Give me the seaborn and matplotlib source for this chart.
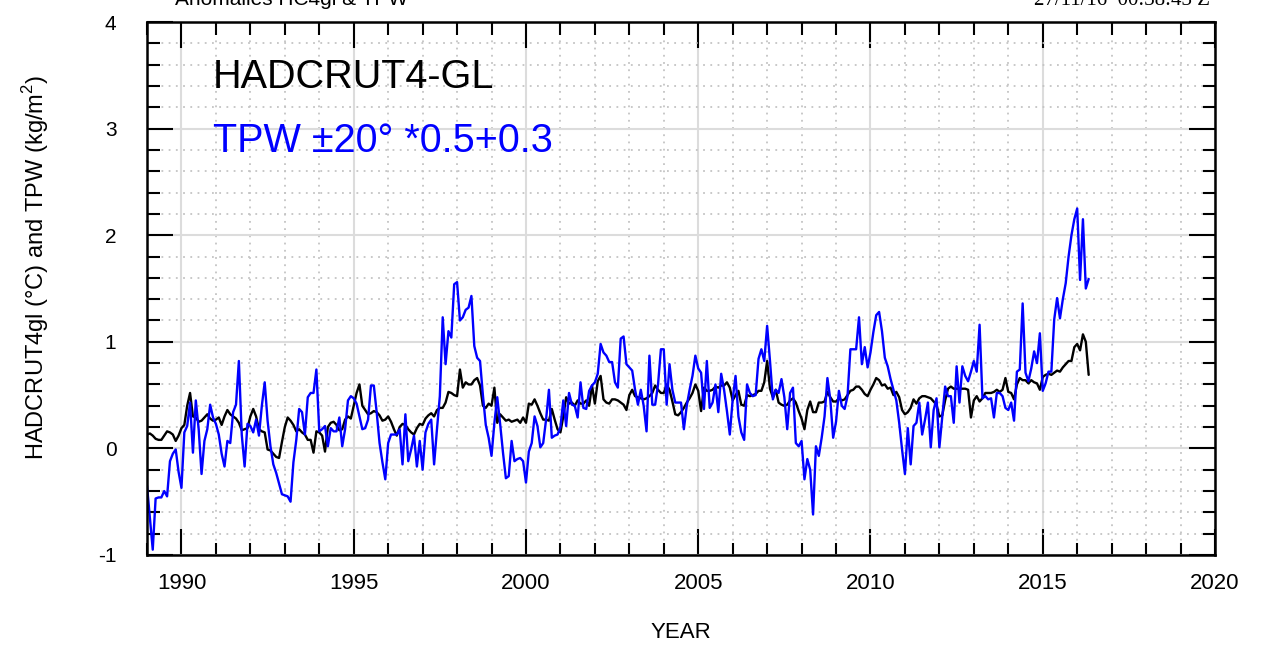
import numpy as np
import pandas as pd
import matplotlib
matplotlib.use("Agg")
import matplotlib.pyplot as plt
import seaborn as sns
from matplotlib.ticker import MultipleLocator

# Monthly anomalies, Jan 1989 .. May 2016 (one row per year)
hadcrut = [
    0.13, 0.14, 0.12, 0.09, 0.08, 0.08, 0.12, 0.16, 0.15, 0.13, 0.07, 0.12,   # 1989
    0.19, 0.22, 0.40, 0.52, 0.30, 0.29, 0.25, 0.26, 0.29, 0.32, 0.28, 0.26,   # 1990
    0.27, 0.29, 0.22, 0.30, 0.36, 0.32, 0.30, 0.28, 0.24, 0.17, 0.18, 0.19,   # 1991
    0.30, 0.37, 0.30, 0.18, 0.16, 0.15, -0.01, -0.02, -0.05, -0.08, -0.09, 0.06,  # 1992
    0.20, 0.29, 0.26, 0.22, 0.16, 0.18, 0.15, 0.13, 0.08, 0.08, -0.04, 0.16,  # 1993
    0.15, 0.12, -0.03, 0.20, 0.24, 0.25, 0.22, 0.17, 0.18, 0.27, 0.30, 0.28,  # 1994
    0.40, 0.52, 0.60, 0.40, 0.36, 0.32, 0.33, 0.35, 0.34, 0.31, 0.26, 0.27,   # 1995
    0.30, 0.25, 0.18, 0.12, 0.20, 0.23, 0.22, 0.18, 0.15, 0.13, 0.19, 0.23,   # 1996
    0.22, 0.28, 0.31, 0.33, 0.30, 0.36, 0.38, 0.38, 0.43, 0.53, 0.52, 0.50,   # 1997
    0.49, 0.74, 0.57, 0.62, 0.60, 0.60, 0.64, 0.66, 0.59, 0.40, 0.38, 0.42,   # 1998
    0.40, 0.57, 0.24, 0.32, 0.29, 0.26, 0.27, 0.25, 0.26, 0.27, 0.24, 0.29,   # 1999
    0.24, 0.42, 0.41, 0.46, 0.40, 0.33, 0.27, 0.27, 0.26, 0.37, 0.27, 0.18,   # 2000
    0.15, 0.30, 0.48, 0.42, 0.43, 0.40, 0.45, 0.42, 0.42, 0.45, 0.40, 0.59,   # 2001
    0.42, 0.63, 0.68, 0.46, 0.43, 0.42, 0.46, 0.46, 0.45, 0.43, 0.41, 0.36,   # 2002
    0.50, 0.55, 0.49, 0.48, 0.47, 0.46, 0.47, 0.49, 0.52, 0.59, 0.55, 0.52,   # 2003
    0.52, 0.60, 0.55, 0.44, 0.32, 0.31, 0.34, 0.38, 0.43, 0.47, 0.52, 0.60,   # 2004
    0.54, 0.35, 0.57, 0.54, 0.54, 0.55, 0.58, 0.57, 0.59, 0.59, 0.62, 0.57,   # 2005
    0.45, 0.50, 0.54, 0.41, 0.40, 0.50, 0.49, 0.50, 0.51, 0.54, 0.54, 0.62,   # 2006
    0.82, 0.56, 0.48, 0.55, 0.43, 0.41, 0.40, 0.41, 0.45, 0.47, 0.43, 0.35,   # 2007
    0.28, 0.18, 0.36, 0.44, 0.34, 0.34, 0.43, 0.43, 0.44, 0.53, 0.48, 0.44,   # 2008
    0.44, 0.47, 0.45, 0.46, 0.50, 0.54, 0.55, 0.58, 0.58, 0.55, 0.51, 0.49,   # 2009
    0.55, 0.60, 0.66, 0.64, 0.59, 0.60, 0.56, 0.57, 0.50, 0.53, 0.48, 0.36,   # 2010
    0.32, 0.34, 0.38, 0.46, 0.42, 0.47, 0.49, 0.49, 0.48, 0.47, 0.44, 0.41,   # 2011
    0.30, 0.31, 0.45, 0.56, 0.58, 0.56, 0.56, 0.56, 0.56, 0.56, 0.55, 0.29,   # 2012
    0.45, 0.49, 0.44, 0.47, 0.52, 0.52, 0.52, 0.53, 0.55, 0.53, 0.55, 0.66,   # 2013
    0.53, 0.52, 0.46, 0.60, 0.66, 0.64, 0.64, 0.61, 0.64, 0.62, 0.61, 0.55,   # 2014
    0.67, 0.69, 0.70, 0.69, 0.71, 0.73, 0.72, 0.76, 0.79, 0.82, 0.82, 0.95,   # 2015
    0.98, 0.92, 1.07, 1.00, 0.69,                                             # 2016
]

tpw = [
    -0.35, -0.65, -0.95, -0.47, -0.46, -0.46, -0.40, -0.45, -0.12, -0.05, -0.01, -0.22,  # 1989
    -0.37, 0.15, 0.21, 0.43, -0.04, 0.45, 0.18, -0.24, 0.07, 0.18, 0.41, 0.29,   # 1990
    0.23, 0.13, -0.05, -0.17, 0.07, 0.05, 0.34, 0.41, 0.82, 0.13, -0.17, 0.23,   # 1991
    0.21, 0.15, 0.27, 0.12, 0.40, 0.62, 0.26, 0.02, -0.15, -0.23, -0.33, -0.43,  # 1992
    -0.44, -0.45, -0.50, -0.13, 0.08, 0.37, 0.34, 0.13, 0.48, 0.52, 0.52, 0.74,  # 1993
    0.16, 0.18, 0.21, 0.02, 0.19, 0.16, 0.16, 0.29, 0.02, 0.18, 0.45, 0.49,      # 1994
    0.47, 0.42, 0.30, 0.18, 0.19, 0.27, 0.59, 0.59, 0.34, 0.05, -0.13, -0.29,    # 1995
    0.05, 0.13, 0.13, 0.13, 0.18, -0.15, 0.32, -0.12, -0.01, 0.12, -0.17, 0.07,  # 1996
    -0.20, 0.15, 0.23, 0.27, -0.15, 0.18, 0.49, 1.23, 0.79, 1.10, 1.04, 1.54,    # 1997
    1.56, 1.20, 1.23, 1.30, 1.32, 1.43, 0.96, 0.85, 0.82, 0.50, 0.22, 0.10,      # 1998
    -0.07, 0.24, 0.48, 0.23, -0.04, -0.28, -0.26, 0.07, -0.12, -0.10, -0.09, -0.12,  # 1999
    -0.32, -0.03, 0.05, 0.30, 0.21, 0.01, 0.05, 0.27, 0.55, 0.10, 0.12, 0.13,    # 2000
    0.20, 0.45, 0.21, 0.52, 0.41, 0.40, 0.29, 0.62, 0.38, 0.37, 0.54, 0.59,      # 2001
    0.62, 0.70, 0.98, 0.90, 0.87, 0.81, 0.81, 0.62, 0.57, 1.03, 1.05, 0.79,      # 2002
    0.76, 0.73, 0.55, 0.41, 0.55, 0.40, 0.16, 0.87, 0.41, 0.41, 0.60, 0.93,      # 2003
    0.93, 0.41, 0.79, 0.55, 0.43, 0.43, 0.43, 0.18, 0.40, 0.55, 0.68, 0.87,      # 2004
    0.75, 0.71, 0.37, 0.82, 0.38, 0.43, 0.60, 0.34, 0.70, 0.55, 0.35, 0.13,      # 2005
    0.46, 0.68, 0.30, 0.15, 0.08, 0.60, 0.52, 0.49, 0.50, 0.84, 0.93, 0.82,      # 2006
    1.15, 0.82, 0.46, 0.55, 0.52, 0.65, 0.48, 0.18, 0.52, 0.57, 0.05, 0.02,      # 2007
    0.07, -0.29, -0.10, -0.20, -0.62, 0.02, -0.07, 0.10, 0.30, 0.66, 0.46, 0.10, # 2008
    0.25, 0.54, 0.40, 0.37, 0.49, 0.93, 0.93, 0.93, 1.23, 0.79, 0.95, 0.76,      # 2009
    0.90, 1.09, 1.25, 1.28, 1.10, 0.85, 0.77, 0.65, 0.55, 0.45, 0.24, -0.01,     # 2010
    -0.24, 0.19, -0.15, 0.21, 0.24, 0.43, 0.13, 0.27, 0.43, 0.01, 0.36, 0.47,    # 2011
    0.01, 0.30, 0.58, 0.49, 0.49, 0.24, 0.77, 0.43, 0.77, 0.68, 0.63, 0.72,      # 2012
    0.82, 0.72, 1.16, 0.47, 0.49, 0.46, 0.47, 0.29, 0.52, 0.52, 0.49, 0.38,      # 2013
    0.36, 0.43, 0.26, 0.72, 0.74, 1.36, 0.71, 0.63, 0.75, 0.91, 0.80, 1.08,      # 2014
    0.54, 0.61, 0.72, 0.72, 1.21, 1.41, 1.22, 1.40, 1.55, 1.80, 2.00, 2.15,      # 2015
    2.25, 1.58, 2.15, 1.50, 1.59,                                                # 2016
]

start_year = 1989
years = start_year + np.arange(len(hadcrut)) / 12.0

df = pd.DataFrame({"year": years, "hadcrut": hadcrut, "tpw": tpw})

sns.set_style("white")
plt.rcParams["font.family"] = ["Liberation Sans", "DejaVu Sans"]
plt.rcParams["axes.unicode_minus"] = False
plt.rcParams["text.color"] = "black"
plt.rcParams["axes.labelcolor"] = "black"
plt.rcParams["mathtext.fontset"] = "custom"
plt.rcParams["mathtext.rm"] = "Liberation Sans"

fig = plt.figure(figsize=(12.69, 6.48), dpi=100)
ax = fig.add_axes([147 / 1269, 1 - 555 / 648, (1215 - 147) / 1269, (555 - 22) / 648])

sns.lineplot(data=df, x="year", y="hadcrut", color="black", linewidth=1.7, ax=ax)
sns.lineplot(data=df, x="year", y="tpw", color="#0000ff", linewidth=1.7, ax=ax)

ax.set_xlim(1989, 2020)
ax.set_ylim(-1, 4)
ax.xaxis.set_major_locator(MultipleLocator(5))
ax.xaxis.set_minor_locator(MultipleLocator(1))
ax.yaxis.set_major_locator(MultipleLocator(1))
ax.yaxis.set_minor_locator(MultipleLocator(0.2))

ax.grid(which="major", color="#dcdcdc", linestyle="-", linewidth=1.5, zorder=0)
ax.grid(which="minor", color="#c4c4c4", linestyle=(0, (1, 3)), linewidth=1.3, zorder=0)
ax.set_axisbelow(True)

ax.tick_params(which="major", direction="in", length=19, width=1.5,
               top=True, right=True, bottom=True, left=True, colors="black")
ax.tick_params(which="minor", direction="in", length=9, width=1.5,
               top=True, right=True, bottom=True, left=True, colors="black")
ax.tick_params(axis="y", which="major", pad=22, labelsize=15)
ax.tick_params(axis="x", which="major", pad=13, labelsize=16)
for sp in ax.spines.values():
    sp.set_color("black")
    sp.set_linewidth(1.8)

ax.set_xlabel("YEAR", fontsize=16, labelpad=20)
ax.set_ylabel("HADCRUT4gl (\u00b0C) and TPW (kg/m$^{2}$)", fontsize=17)
ax.yaxis.set_label_coords(-0.09, 0.54)

ax.text(0.062, 0.876, "HADCRUT4-GL", transform=ax.transAxes, fontsize=28.5,
        color="black", va="baseline", ha="left")
ax.text(0.062, 0.756, "TPW \u00b120\u00b0 *0.5+0.3", transform=ax.transAxes, fontsize=28.5,
        color="#0000ff", va="baseline", ha="left")

# header line, partly cut by the top edge as in the source image
fig.text(175 / 1269, 1 - 5 / 648, "Anomalies HC4gl & TPW", fontsize=15,
         va="baseline", ha="left")
fig.text(1210 / 1269, 1 - 5 / 648, "27/11/16  00:38:43 Z", fontsize=15,
         va="baseline", ha="right", family=["Liberation Serif", "DejaVu Serif"])

fig.savefig("out.png", dpi=100)
